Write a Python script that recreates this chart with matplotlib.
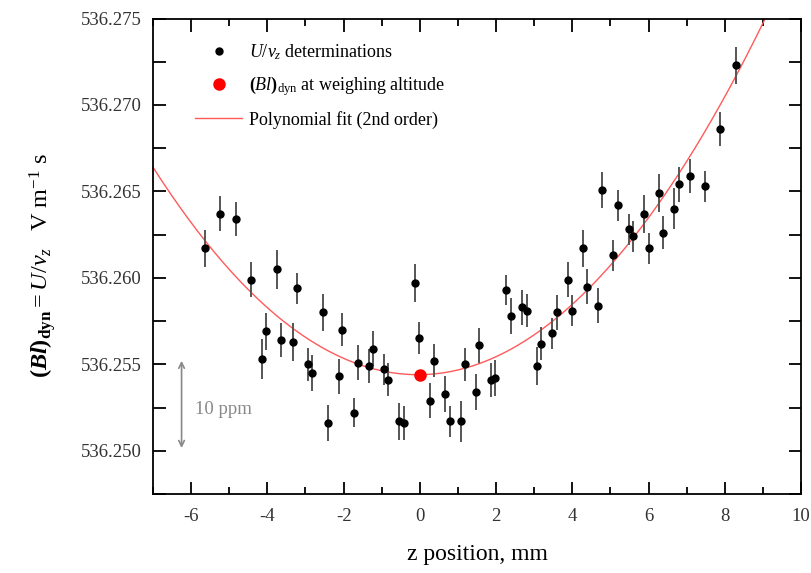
import numpy as np
import matplotlib.pyplot as plt
from matplotlib.ticker import MultipleLocator, FormatStrFormatter

plt.rcParams['font.family'] = ['Liberation Serif', 'DejaVu Serif']
plt.rcParams['mathtext.fontset'] = 'custom'
plt.rcParams['mathtext.rm'] = 'Liberation Serif'
plt.rcParams['mathtext.it'] = 'Liberation Serif:italic'
plt.rcParams['mathtext.bf'] = 'Liberation Serif:bold'
plt.rcParams['mathtext.bfit'] = 'Liberation Serif:italic:bold'
plt.rcParams['axes.unicode_minus'] = False

# U/v_z determinations (z in mm, value in V m^-1 s, 1-sigma bars)
z_pos = [-5.63, -5.24, -4.83, -4.42, -4.13, -4.03, -3.74, -3.63, -3.33, -3.22,
         -2.94, -2.83, -2.54, -2.42, -2.13, -2.03, -1.73, -1.62, -1.34, -1.22,
         -0.93, -0.83, -0.54, -0.41, -0.13, -0.02, 0.27, 0.38, 0.67, 0.78,
         1.08, 1.18, 1.47, 1.56, 1.86, 1.98, 2.27, 2.38, 2.67, 2.80,
         3.08, 3.19, 3.48, 3.60, 3.88, 3.99, 4.28, 4.38, 4.68, 4.79,
         5.08, 5.19, 5.48, 5.59, 5.88, 6.00, 6.28, 6.38, 6.68, 6.80,
         7.08, 7.49, 7.88, 8.29]
bl_val = [536.2617, 536.2637, 536.2634, 536.2599, 536.2553, 536.2569, 536.2605, 536.2564, 536.2563, 536.2594,
          536.2550, 536.2545, 536.2580, 536.2516, 536.2543, 536.2570, 536.2522, 536.2551, 536.2549, 536.2559,
          536.2547, 536.2541, 536.2517, 536.2516, 536.2597, 536.2565, 536.2529, 536.2552, 536.2533, 536.2517,
          536.2517, 536.2550, 536.2534, 536.2561, 536.2541, 536.2542, 536.2593, 536.2578, 536.2583, 536.2581,
          536.2549, 536.2562, 536.2568, 536.2580, 536.2599, 536.2581, 536.2617, 536.2595, 536.2584, 536.2651,
          536.2613, 536.2642, 536.2628, 536.2624, 536.2637, 536.2617, 536.2649, 536.2626, 536.2640, 536.2654,
          536.2659, 536.2653, 536.2686, 536.2723]
bl_err = [0.00108, 0.00101, 0.00100, 0.00100, 0.00115, 0.00105, 0.00113, 0.00100, 0.00111, 0.00090,
          0.00095, 0.00105, 0.00106, 0.00103, 0.00100, 0.00095, 0.00085, 0.00100, 0.00100, 0.00100,
          0.00090, 0.00095, 0.00109, 0.00100, 0.00111, 0.00093, 0.00100, 0.00095, 0.00105, 0.00090,
          0.00120, 0.00095, 0.00106, 0.00100, 0.00100, 0.00105, 0.00087, 0.00105, 0.00100, 0.00095,
          0.00109, 0.00095, 0.00090, 0.00100, 0.00100, 0.00090, 0.00106, 0.00100, 0.00100, 0.00104,
          0.00090, 0.00090, 0.00090, 0.00090, 0.00110, 0.00090, 0.00110, 0.00095, 0.00120, 0.00103,
          0.00100, 0.00090, 0.00098, 0.00108]

# (Bl)_dyn at weighing altitude
z_weigh = 0.0
bl_weigh = 536.2544

# 2nd order polynomial fit coefficients (a*z^2 + b*z + c)
fit_coeffs = [2.483e-4, 2.39e-5, 536.2544]

fig = plt.figure(figsize=(8.12, 5.73), dpi=100)
ax = fig.add_axes([0.1884, 0.1379, 0.7981, 0.8298])

zz = np.linspace(-7, 10, 300)
fit_line, = ax.plot(zz, np.polyval(fit_coeffs, zz), color='#ff5a5a', lw=1.0, zorder=2)
eb = ax.errorbar(z_pos, bl_val, yerr=bl_err, fmt='o', color='black', ms=5,
                 ecolor='#555555', elinewidth=1.4, capsize=0, zorder=3)
red_pt, = ax.plot([z_weigh], [bl_weigh], 'o', color='#ff0000', ms=8, zorder=4)

# 10 ppm scale arrow
ppm10 = 536.25 * 10e-6
ax.annotate('', xy=(-6.25, 536.2500), xytext=(-6.25, 536.2500 + ppm10),
            arrowprops=dict(arrowstyle='<->', color='#888888', lw=1.2))
ax.text(-5.9, 536.2524, '10 ppm', color='#888888', fontsize=13.5, va='center')

ax.set_xlim(-7, 10)
ax.set_ylim(536.2475, 536.275)
ax.xaxis.set_major_locator(MultipleLocator(2))
ax.xaxis.set_minor_locator(MultipleLocator(1))
ax.yaxis.set_major_locator(MultipleLocator(0.005))
ax.yaxis.set_minor_locator(MultipleLocator(0.0025))
ax.yaxis.set_major_formatter(FormatStrFormatter('%.3f'))
ax.tick_params(which='both', direction='in', top=True, right=True, width=1.3,
               labelsize=13.5, labelcolor='#333333')
ax.tick_params(axis='x', which='major', length=9, pad=10)
ax.tick_params(axis='x', which='minor', length=5)
ax.tick_params(axis='y', which='both', length=9, pad=8)
for s in ax.spines.values():
    s.set_linewidth(1.3)

ax.set_xlabel('z position, mm', fontsize=17)
ax.xaxis.set_label_coords(0.5, -0.105)
ax.set_ylabel(r'$\mathbf{(}\mathbfit{Bl}\mathbf{)}_{\mathbf{dyn}} = U/v_z\quad\mathrm{V\ m^{-1}\ s}$',
              fontsize=17.5)
ax.yaxis.set_label_coords(-0.147, 0.48)

ax.legend([eb[0], red_pt, fit_line],
          [r'$U/v_z$ determinations',
           r'$\mathbf{(}\mathit{Bl}\mathbf{)}_{\mathrm{dyn}}$ at weighing altitude',
           'Polynomial fit (2nd order)'],
          loc='upper left', bbox_to_anchor=(0.04, 0.985), frameon=False, fontsize=13,
          labelspacing=0.7, handlelength=2.6, handletextpad=0.4)

fig.savefig('out.png', dpi=100)
